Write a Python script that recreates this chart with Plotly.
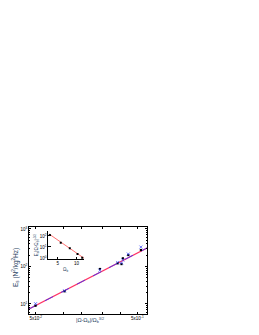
import plotly.graph_objects as go

# main data (black squares) and blue crosses
x_sq = [0.0497, 0.096, 0.214, 0.32, 0.349, 0.36, 0.407, 0.542]
y_sq = [9.0, 21.8, 85.7, 121.6, 116, 165, 202, 275]
x_cr = [0.0497, 0.096, 0.214, 0.32, 0.349, 0.36, 0.407, 0.542]
y_cr = [10.2, 22.5, 80, 128, 124, 150, 215, 330]
fit_x = [0.0429, 0.622]
fit_y = [7.35, 311]

# inset data
in_x = [2.9, 5.8, 8.2, 10.25, 11.5]
in_y = [123, 24.5, 7.6, 2.3, 1.07]
in_fit_x = [2.7, 12.0]
in_fit_y = [150, 0.95]

main_xticks = [0.05, 0.5]
main_xticktext = ["5x10<sup>-2</sup>", "5x10<sup>-1</sup>"]
main_yticks = [10, 100, 1000]
main_yticktext = ["10<sup>1</sup>", "10<sup>2</sup>", "10<sup>3</sup>"]
in_xticks = [5, 10]
in_yticks = [1, 10, 100]
in_yticktext = ["10<sup>0</sup>", "10<sup>1</sup>", "10<sup>2</sup>"]

minor_x = [0.0937, 0.141, 0.225, 0.344]
minor_y = [v * d for d in (1, 10, 100) for v in range(2, 10)]

F = dict(family="Liberation Sans, Arial", size=4.5, color="black")

fig = go.Figure()
fig.add_trace(go.Scatter(x=fit_x, y=fit_y, mode="lines",
                         line=dict(color="#ff3366", width=1.2), showlegend=False))
fig.add_trace(go.Scatter(x=fit_x, y=fit_y, mode="lines",
                         line=dict(color="#3333ff", width=0.8, dash="dash"), showlegend=False))
fig.add_trace(go.Scatter(x=x_sq, y=y_sq, mode="markers",
                         marker=dict(symbol="square", size=2.2, color="black"), showlegend=False))
fig.add_trace(go.Scatter(x=x_cr, y=y_cr, mode="markers",
                         marker=dict(symbol="x-thin", size=3, line=dict(color="#3344ff", width=0.7)),
                         showlegend=False))
# inset
fig.add_trace(go.Scatter(x=in_fit_x, y=in_fit_y, mode="lines", xaxis="x2", yaxis="y2",
                         line=dict(color="#ff3333", width=0.7), showlegend=False))
fig.add_trace(go.Scatter(x=in_x, y=in_y, mode="markers", xaxis="x2", yaxis="y2",
                         marker=dict(symbol="square", size=2, color="black"), showlegend=False))

ax_common = dict(showline=True, linecolor="black", linewidth=0.8, ticks="inside",
                 ticklen=2.5, tickwidth=0.6, tickcolor="black", showgrid=False,
                 zeroline=False, tickfont=F)

OFF = 8  # default page body margin
fig.update_layout(
    width=259, height=335,
    margin=dict(l=25 - OFF, r=112 + OFF, t=227 - OFF, b=21 + OFF),
    paper_bgcolor="white", plot_bgcolor="white",
    xaxis=dict(type="log", range=[-1.368, -0.206], tickvals=main_xticks,
               ticktext=main_xticktext, mirror="allticks",
               minor=dict(tickvals=minor_x, ticks="inside", ticklen=2, tickcolor="black", tickwidth=0.5),
               **ax_common),
    yaxis=dict(type="log", range=[0.733, 3.053], tickvals=main_yticks,
               ticktext=main_yticktext, mirror="allticks",
               minor=dict(tickvals=minor_y, ticks="inside", ticklen=1.5, tickcolor="black", tickwidth=0.5),
               **ax_common),
    xaxis2=dict(domain=[0.164, 0.467], anchor="y2", range=[2.5, 12], tickvals=in_xticks,
                **ax_common),
    yaxis2=dict(domain=[0.632, 0.954], anchor="x2", type="log", range=[-0.09, 2.45],
                tickvals=in_yticks, ticktext=in_yticktext, **ax_common),
    annotations=[
        dict(text="E<sub>s</sub> (N<sup>2</sup>/kg<sup>2</sup>Hz)", x=10.5, y=267,
             showarrow=False, textangle=-90, font=dict(family="Liberation Sans, Arial", size=6.5)),
        dict(text="|Ω-Ω<sub>b</sub>|/Ω<sub>b</sub><sup>3/2</sup>", x=88, y=320,
             showarrow=False, font=dict(family="Liberation Sans, Arial", size=5.5)),
        dict(text="Ω<sub>b</sub>", x=63, y=270, showarrow=False,
             font=dict(family="Liberation Sans, Arial", size=4.5)),
        dict(text="E<sub>s</sub>|Ω-Ω<sub>b</sub>|<sup>-3/2</sup>", x=32.5, y=245, showarrow=False, textangle=-90,
             font=dict(family="Liberation Sans, Arial", size=4.5)),
    ],
)
# convert pixel annotation positions (page coords) to paper coords of the main plot area
L, R, T, B = 25, 147, 227, 314
for a in fig.layout.annotations:
    px, py = a.x, a.y
    a.xref = "paper"; a.yref = "paper"
    a.xanchor = "center"; a.yanchor = "middle"
    a.x = (px - L) / (R - L)
    a.y = (B - py) / (B - T)

fig.write_html("out.html")
